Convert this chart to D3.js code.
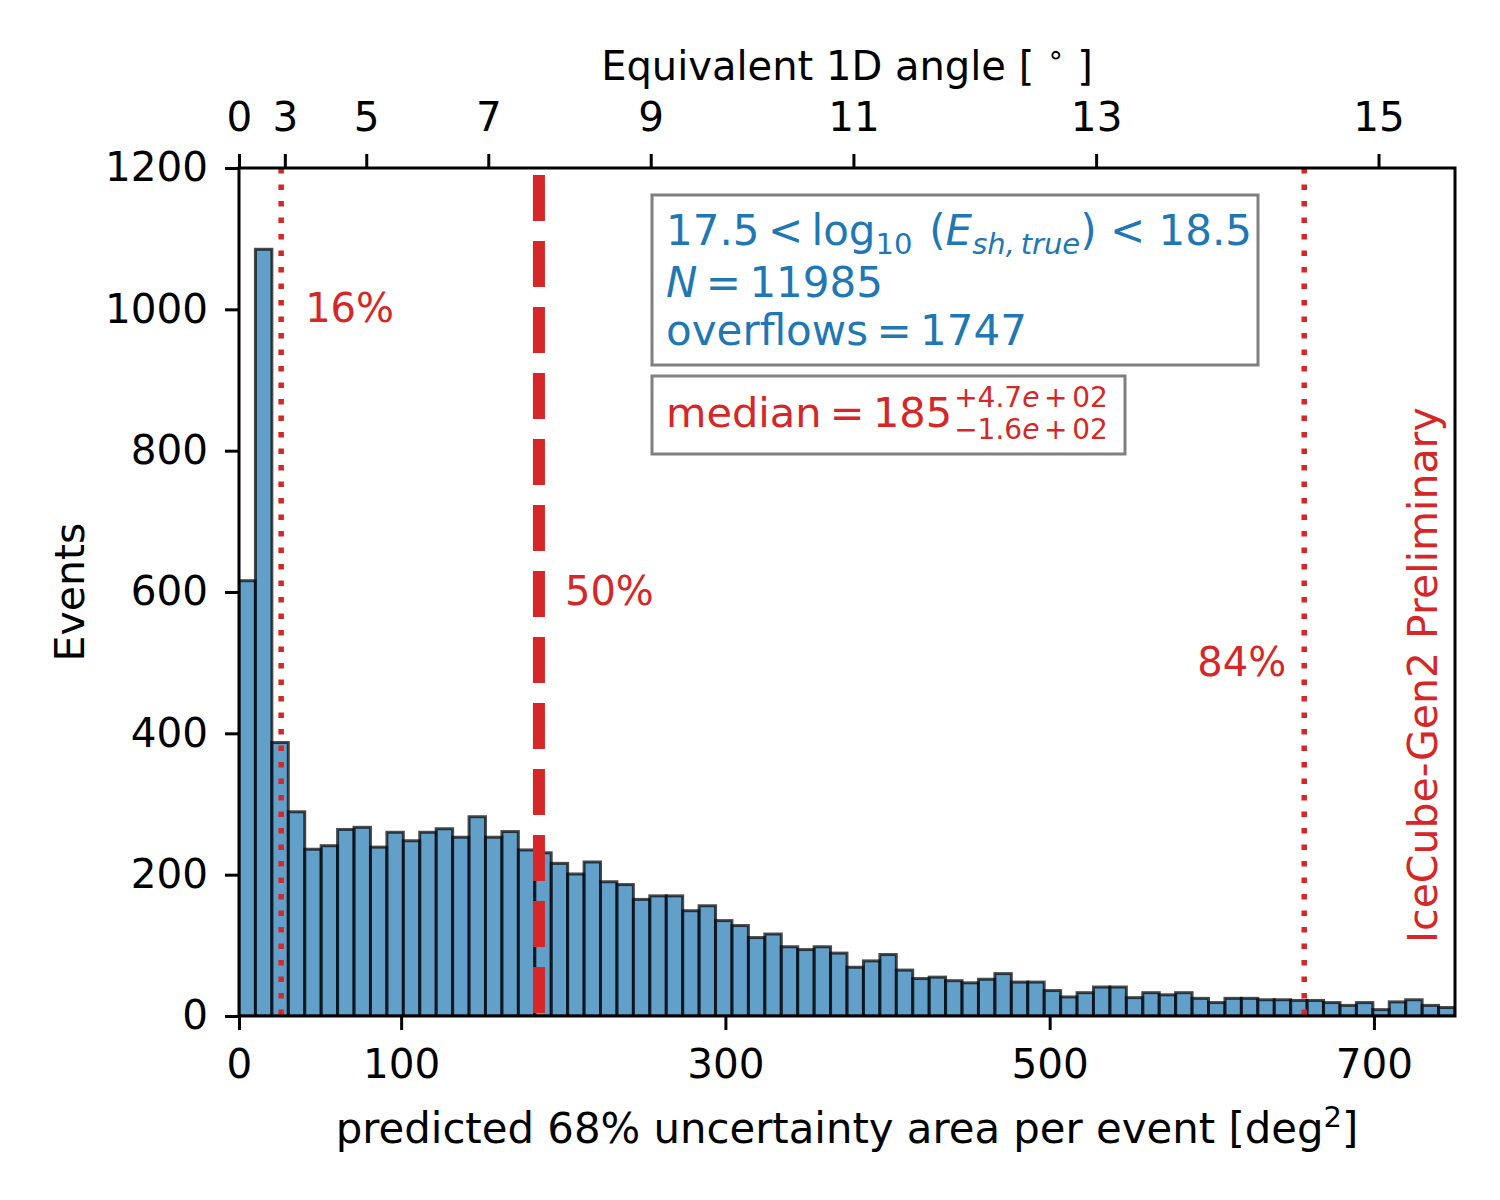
<!DOCTYPE html>
<html>
<head>
<meta charset="utf-8">
<script src="https://cdn.jsdelivr.net/npm/d3@7"></script>
<style>
  body { margin: 0; background: #fff; }
  text { font-family: "DejaVu Sans", sans-serif; }
</style>
</head>
<body>
<div id="chart"></div>
<script>
// histogram counts, 74 equal bins spanning 0..750 deg^2
var histRange = [0, 750];
var counts = [616, 1085, 387, 289, 236, 241, 264, 267, 239, 260, 248, 260, 265, 253, 282, 253, 261,
  235, 231, 216, 201, 218, 190, 186, 165, 170, 170, 149, 156, 135, 128, 111, 116, 98, 94, 98,
  89, 69, 78, 87, 65, 53, 55, 50, 47, 52, 60,
  48, 48, 36, 27, 33, 41, 41, 26, 33, 30, 33, 25, 19, 25, 25, 23, 23, 22, 22, 19, 15, 19, 9,
  20, 23, 15, 12];

var xTicks = [0, 100, 300, 500, 700];
var yTicks = [0, 200, 400, 600, 800, 1000, 1200];
var angleTicks = [0, 3, 5, 7, 9, 11, 13, 15];

var percentileLabels = ["16%", "50%", "84%"];
var percentileValues = [26, 185, 657];

var medianText = ["median\u2009=\u2009185", "+4.7e\u2006+\u200602", "\u22121.6e\u2006+\u200602"];

var svgWidth = 1500;
var svgHeight = 1200;
var margin = { top: 168, right: 45, bottom: 184, left: 239 };
var width = svgWidth - margin.left - margin.right;
var height = svgHeight - margin.top - margin.bottom;

var blue = "#1f77b4";
var red = "#d62728";

var svg = d3.select("#chart")
  .append("svg")
  .attr("width", svgWidth)
  .attr("height", svgHeight);

var chartGroup = svg.append("g")
  .attr("transform", `translate(${margin.left}, ${margin.top})`);

var xScale = d3.scaleLinear().domain(histRange).range([0, width]);
var yScale = d3.scaleLinear().domain([0, 1200]).range([height, 0]);

// solid angle of a cone with half-opening angle theta, in deg^2
function coneArea(deg) {
  var r = deg * Math.PI / 180;
  return 2 * Math.PI * (1 - Math.cos(r)) * Math.pow(180 / Math.PI, 2);
}

chartGroup.append("clipPath").attr("id", "clip")
  .append("rect").attr("width", width).attr("height", height);

// bars
var binW = (histRange[1] - histRange[0]) / counts.length;
chartGroup.append("g")
  .attr("clip-path", "url(#clip)")
  .selectAll("rect")
  .data(counts)
  .enter()
  .append("rect")
  .attr("x", (d, i) => xScale(histRange[0] + i * binW))
  .attr("width", (d, i) => xScale(histRange[0] + (i + 1) * binW) - xScale(histRange[0] + i * binW))
  .attr("y", d => yScale(d))
  .attr("height", d => yScale(0) - yScale(d))
  .attr("fill", blue)
  .attr("fill-opacity", 0.7)
  .attr("stroke", "rgba(0,0,0,0.7)")
  .attr("stroke-width", 3);

// percentile lines
chartGroup.selectAll("line.pct")
  .data(percentileValues)
  .enter()
  .append("line")
  .attr("class", "pct")
  .attr("x1", d => xScale(d))
  .attr("x2", d => xScale(d))
  .attr("y1", (d, i) => i === 1 ? 7 : 0)
  .attr("y2", height)
  .attr("stroke", red)
  .attr("stroke-width", (d, i) => i === 1 ? 12 : 5.5)
  .attr("stroke-dasharray", (d, i) => i === 1 ? "46,20" : "5.5,11");

var pctPos = [
  { dx: 24, y: 322, anchor: "start" },
  { dx: 26, y: 605, anchor: "start" },
  { dx: -18, y: 676, anchor: "end" }
];
chartGroup.selectAll("text.pct")
  .data(percentileLabels)
  .enter()
  .append("text")
  .attr("class", "pct")
  .attr("x", (d, i) => xScale(percentileValues[i]) + pctPos[i].dx)
  .attr("y", (d, i) => pctPos[i].y - margin.top)
  .attr("text-anchor", (d, i) => pctPos[i].anchor)
  .style("font-size", "40px")
  .attr("fill", red)
  .text(d => d);

// axes
var bottomAxis = d3.axisBottom(xScale).tickValues(xTicks).tickSize(14).tickPadding(19).tickFormat(d3.format("d"));
var leftAxis = d3.axisLeft(yScale).tickValues(yTicks).tickSize(14).tickPadding(17).tickFormat(d3.format("d"));
var topAxis = d3.axisTop(xScale).tickValues(angleTicks.map(coneArea)).tickSize(14).tickPadding(23)
  .tickFormat((d, i) => angleTicks[i]);

function styleAxis(g) {
  g.select(".domain").remove();
  g.selectAll("line").attr("stroke", "#000").attr("stroke-width", 3);
  g.selectAll("text").style("font-size", "40.5px").attr("fill", "#000");
}

chartGroup.append("g").attr("transform", `translate(0, ${height})`).call(bottomAxis).call(styleAxis);
chartGroup.append("g").call(leftAxis).call(styleAxis);
chartGroup.append("g").call(topAxis).call(styleAxis);

// frame
chartGroup.append("rect")
  .attr("width", width).attr("height", height)
  .attr("fill", "none").attr("stroke", "#000").attr("stroke-width", 3);

// axis labels
var xLabel = svg.append("text")
  .attr("x", margin.left + width / 2).attr("y", 1143)
  .attr("text-anchor", "middle").style("font-size", "41.8px");
xLabel.append("tspan").text("predicted 68% uncertainty area per event [deg");
xLabel.append("tspan").attr("dy", -16).style("font-size", "29px").text("2");
xLabel.append("tspan").attr("dy", 16).text("]");

svg.append("text")
  .attr("transform", `translate(84, ${margin.top + height / 2}) rotate(-90)`)
  .attr("text-anchor", "middle").style("font-size", "41px")
  .text("Events");

var topLabel = svg.append("text")
  .attr("x", margin.left + width / 2).attr("y", 80)
  .attr("text-anchor", "middle").style("font-size", "40px");
topLabel.append("tspan").text("Equivalent 1D angle [ ");
topLabel.append("tspan").attr("dy", -16).style("font-size", "28px").text("\u2218");
topLabel.append("tspan").attr("dy", 16).text(" ]");

// preliminary tag
svg.append("text")
  .attr("transform", "translate(1437, 943) rotate(-90)")
  .style("font-size", "41px").attr("fill", red)
  .text("IceCube-Gen2 Preliminary");

// info box
svg.append("rect")
  .attr("x", 652).attr("y", 195).attr("width", 606).attr("height", 170)
  .attr("fill", "#fff").attr("stroke", "#808080").attr("stroke-width", 3);

var l1 = svg.append("text").attr("x", 666).attr("y", 245).attr("fill", blue).style("font-size", "42px");
l1.append("tspan").text("17.5\u2009<\u2009log");
l1.append("tspan").attr("dy", 9).style("font-size", "29px").text("10");
l1.append("tspan").attr("dy", -9).text("\u2009\u2009(");
l1.append("tspan").style("font-style", "italic").text("E");
l1.append("tspan").attr("dy", 9).style("font-size", "29px").style("font-style", "italic").text("sh,\u2009true");
l1.append("tspan").attr("dy", -9).text(") < 18.5");

var l2 = svg.append("text").attr("x", 666).attr("y", 297).attr("fill", blue).style("font-size", "42px");
l2.append("tspan").style("font-style", "italic").text("N");
l2.append("tspan").text("\u2009=\u200911985");

svg.append("text").attr("x", 666).attr("y", 345).attr("fill", blue).style("font-size", "42px")
  .text("overflows\u2009=\u20091747");

// median box
svg.append("rect")
  .attr("x", 652).attr("y", 376).attr("width", 473).attr("height", 78)
  .attr("fill", "#fff").attr("stroke", "#808080").attr("stroke-width", 3);

var med = svg.append("text").attr("x", 666).attr("y", 427).attr("fill", red).style("font-size", "41.5px")
  .text(medianText[0]);
var supX = 666 + med.node().getComputedTextLength() + 2;

function scriptText(y, s) {
  var t = svg.append("text").attr("x", supX).attr("y", y).attr("fill", red).style("font-size", "28px");
  var parts = s.split("e");
  t.append("tspan").text(parts[0]);
  t.append("tspan").style("font-style", "italic").text("e");
  t.append("tspan").text(parts[1]);
}
scriptText(407, medianText[1]);
scriptText(439, medianText[2]);
</script>
</body>
</html>
